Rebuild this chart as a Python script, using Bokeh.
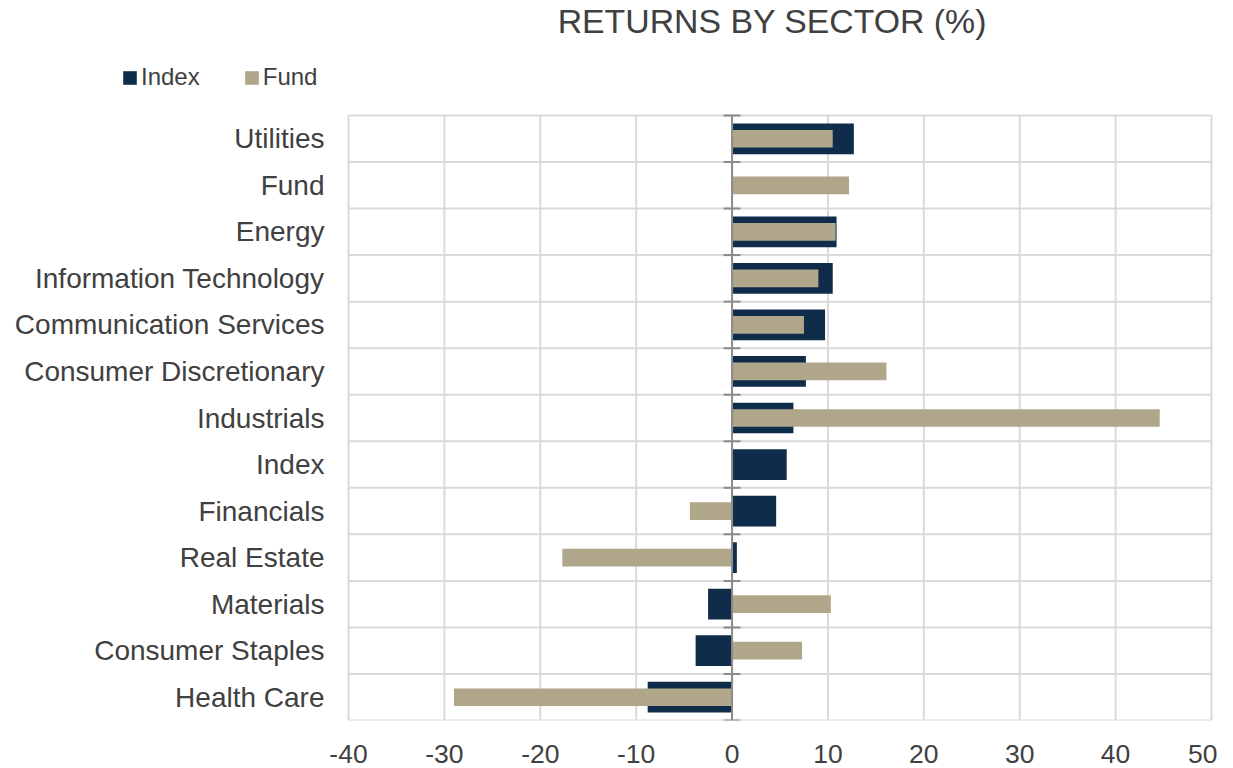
from bokeh.plotting import figure
from bokeh.models import (Range1d, FixedTicker, Legend, LegendItem, ColumnDataSource, Label)
from bokeh.core.properties import value
from bokeh.embed import file_html
from bokeh.resources import INLINE

# ---- data (top to bottom as shown) ----
sectors = ["Utilities", "Fund", "Energy", "Information Technology",
           "Communication Services", "Consumer Discretionary", "Industrials",
           "Index", "Financials", "Real Estate", "Materials",
           "Consumer Staples", "Health Care"]
index_returns = [12.7, None, 10.9, 10.5, 9.7, 7.7, 6.4, 5.7, 4.6, 0.5, -2.5, -3.8, -8.8]
fund_returns = [10.5, 12.2, 10.8, 9.0, 7.5, 16.1, 44.6, None, -4.4, -17.7, 10.3, 7.3, -29.0]
x_ticks = [-40, -30, -20, -10, 0, 10, 20, 30, 40, 50]
series_names = ["Index", "Fund"]
title_text = "RETURNS BY SECTOR (%)"

NAVY = "#0F2C4A"
TAN = "#B0A68A"
TEXT = "#404040"
GRID = "#D9D9D9"
AXIS = "#8C8C8C"
FONT = "Liberation Sans"

# ---- layout (pixels) ----
PLOT_LEFT = 348          # where the first x tick sits
PLOT_W = 863             # width of the value area
PLOT_TOP = 115           # where the category area begins
PLOT_H = 605             # height of the category area
RIGHT_PAD = 2
BOTTOM = 46

n = len(sectors)
ypos = [n - 1 - i for i in range(n)]  # first sector at top
boundaries = [k - 0.5 for k in range(n + 1)]
xs = PLOT_W / (x_ticks[-1] - x_ticks[0])      # px per unit
ys = PLOT_H / n                                # px per category
x_lo = x_ticks[0] - PLOT_LEFT / xs
x_hi = x_ticks[-1] + RIGHT_PAD / xs
y_lo = boundaries[0]
y_hi = boundaries[-1] + PLOT_TOP / ys
FRAME_W = PLOT_LEFT + PLOT_W + RIGHT_PAD
FRAME_H = PLOT_TOP + PLOT_H

nan = float("nan")
src = ColumnDataSource(dict(
    y=ypos,
    name=sectors,
    idx=[nan if v is None else v for v in index_returns],
    fund=[nan if v is None else v for v in fund_returns],
))

p = figure(frame_width=FRAME_W, frame_height=FRAME_H,
           x_range=Range1d(x_lo, x_hi), y_range=Range1d(y_lo, y_hi),
           y_axis_type=None,
           output_backend="svg", toolbar_location=None,
           min_border=0, min_border_bottom=BOTTOM, min_border_right=4)
p.outline_line_color = None
p.background_fill_color = "white"
p.border_fill_color = "white"
p.xgrid.visible = False

# x axis (bottom)
xa = p.xaxis[0]
xa.ticker = FixedTicker(ticks=x_ticks)
xa.major_label_overrides = {t: str(t) for t in x_ticks}
xa.axis_line_color = None
xa.major_tick_line_color = None
xa.minor_tick_line_color = None
xa.major_tick_out = 0
xa.major_tick_in = 0
xa.major_label_text_font = FONT
xa.major_label_text_font_size = "26.5px"
xa.major_label_text_color = TEXT
xa.major_label_standoff = 24

# grid lines limited to the plot area
p.segment(x0=x_ticks, x1=x_ticks, y0=[boundaries[0]] * len(x_ticks),
          y1=[boundaries[-1]] * len(x_ticks), line_color=GRID, line_width=2)
p.segment(x0=[x_ticks[0]] * len(boundaries), x1=[x_ticks[-1]] * len(boundaries),
          y0=boundaries, y1=boundaries, line_color=GRID, line_width=2)

# category labels
p.text(x=x_ticks[0], y="y", text="name", source=src, x_offset=-24,
       text_align="right", text_baseline="middle",
       text_font=value(FONT), text_font_size="28px", text_color=TEXT)

# bars
r_idx = p.hbar(y="y", left=0, right="idx", height=0.66, source=src,
               fill_color=NAVY, line_color=None)
r_fund = p.hbar(y="y", left=0, right="fund", height=0.38, source=src,
                fill_color=TAN, line_color=None)

# zero axis line with tick marks at category boundaries
p.segment(x0=[0], y0=[boundaries[0]], x1=[0], y1=[boundaries[-1]],
          line_color=AXIS, line_width=2)
p.scatter(x=[0] * len(boundaries), y=boundaries, marker="dash", size=17,
          line_color=AXIS, line_width=2)

# title
p.add_layout(Label(x=4.2, y=FRAME_H - 20, y_units="screen", text=title_text,
                   text_align="center", text_baseline="alphabetic",
                   text_font=FONT, text_font_size="33.8px", text_color=TEXT))

# legend
legend = Legend(items=[LegendItem(label=series_names[0], renderers=[r_idx]),
                       LegendItem(label=series_names[1], renderers=[r_fund])],
                orientation="horizontal", location=(121, FRAME_H - 91))
legend.glyph_width = 17
legend.glyph_height = 17
legend.label_standoff = 3
legend.spacing = 43
legend.padding = 0
legend.margin = 0
legend.border_line_color = None
legend.background_fill_alpha = 0
legend.label_text_font = FONT
legend.label_text_font_size = "24px"
legend.label_text_color = TEXT
p.add_layout(legend, "center")

open("out.html", "w").write(file_html(p, INLINE))
